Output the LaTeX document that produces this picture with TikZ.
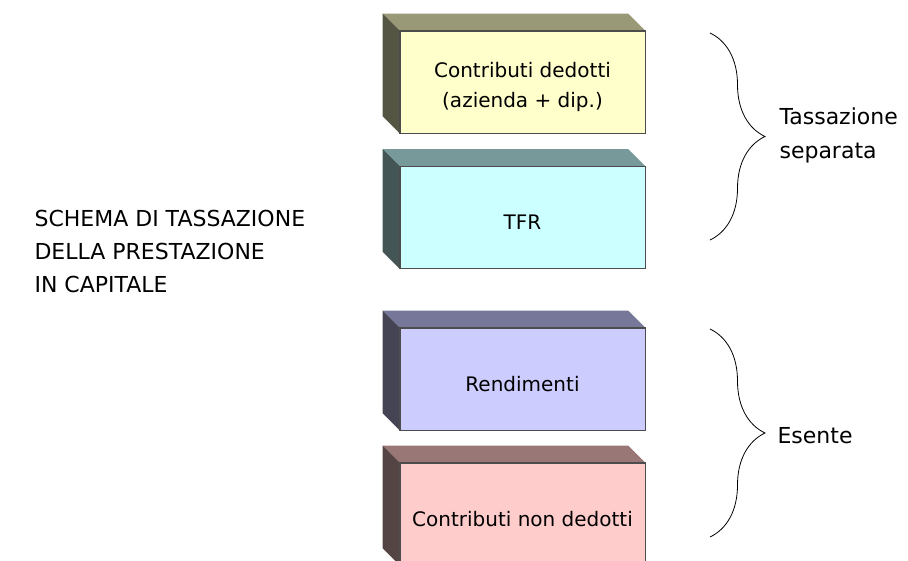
\documentclass[tikz,border=0pt]{standalone}
\usepackage{fontspec}
\setmainfont{DejaVu Sans}
\usetikzlibrary{decorations.pathreplacing}
\definecolor{yelfront}{HTML}{FFFFCC}
\definecolor{yeltop}{HTML}{999977}
\definecolor{yelside}{HTML}{555544}
\definecolor{cyafront}{HTML}{CCFFFF}
\definecolor{cyatop}{HTML}{779999}
\definecolor{cyaside}{HTML}{445555}
\definecolor{blufront}{HTML}{CCCCFF}
\definecolor{blutop}{HTML}{777799}
\definecolor{bluside}{HTML}{444455}
\definecolor{rosfront}{HTML}{FFCCCC}
\definecolor{rostop}{HTML}{997777}
\definecolor{rosside}{HTML}{554444}

\begin{document}
\begin{tikzpicture}[x=1pt, y=-1pt,
  front/.style={draw=black!70, line width=0.6pt, minimum width=245pt, minimum height=102pt, inner sep=0pt},
  boxtext/.style={align=center, font=\fontsize{20}{30}\selectfont},
  sidetext/.style={anchor=west, align=left, font=\fontsize{22}{34}\selectfont},
  curly/.style={decorate, decoration={brace, amplitude=55pt}, line width=0.8pt}]
\useasboundingbox (0,0) rectangle (908,561);

% the four blocks
\foreach \nm/\cy/\col/\txt in {contrib/82/yel/{Contributi dedotti\\(azienda + dip.)},
    tfr/217.5/cya/TFR, rend/379/blu/Rendimenti, nondedotti/514/ros/Contributi non dedotti} {
  \node[front, fill=\col front] (\nm) at (522.5,\cy) {};
  \fill[\col top] (\nm.north west) -- ++(-17,-17) -- ([shift={(-17pt,17pt)}]\nm.north east) -- (\nm.north east) -- cycle;
  \fill[\col side] (\nm.north west) -- ++(-17,-17) -- ([shift={(-17pt,17pt)}]\nm.south west) -- (\nm.south west) -- cycle;
  \draw[black!70, line width=0.6pt] (\nm.north west) rectangle (\nm.south east);
  \node[boxtext] (\nm-text) at ([yshift=-5pt]\nm.center) {\txt};
}

% left title
\node[anchor=west, align=left, font=\fontsize{22}{33}\selectfont] (schema) at (31,251)
  {SCHEMA DI TASSAZIONE\\DELLA PRESTAZIONE\\IN CAPITALE};

% braces
\coordinate (septop) at (710,33);
\coordinate (sepbot) at (710,240);
\coordinate (esetop) at (710,329);
\coordinate (esebot) at (710,537);
\draw[curly] (septop) -- (sepbot);
\draw[curly] (esetop) -- (esebot);

\node[sidetext] (separata) at (776,135) {Tassazione\\separata};
\node[sidetext] (esente) at (774,436) {Esente};
\end{tikzpicture}
\end{document}
